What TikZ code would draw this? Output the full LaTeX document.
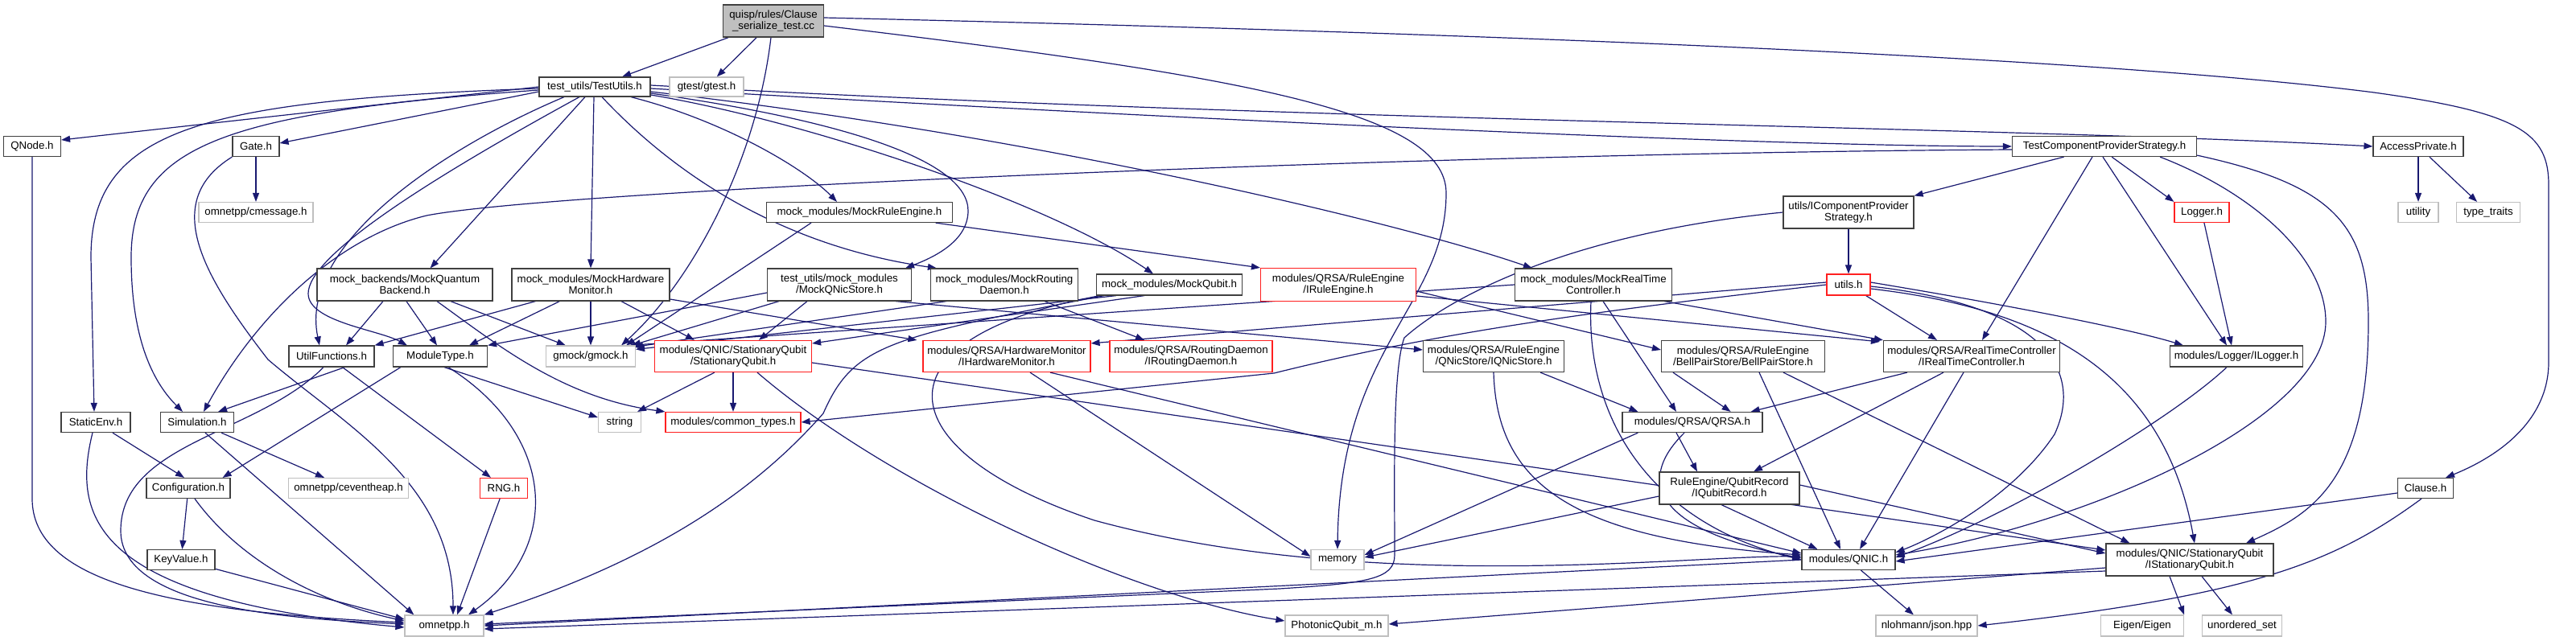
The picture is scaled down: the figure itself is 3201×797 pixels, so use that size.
\documentclass[tikz,border=0pt]{standalone}
\usepackage{fontspec}
\setmainfont{Liberation Sans}
\usetikzlibrary{arrows.meta,calc,backgrounds}
\definecolor{edgec}{HTML}{191970}
\definecolor{bordc}{HTML}{404040}
\definecolor{extc}{HTML}{BFBFBF}
\definecolor{truncc}{HTML}{FF2020}
\definecolor{rootfill}{HTML}{BFBFBF}
\newcommand\mynode[6]{\node[#1,minimum width=#4*0.5pt,minimum height=#5*0.5pt] (#2) at (#3) {#6};}
\begin{document}
\begin{tikzpicture}[x=0.5pt,y=-0.5pt,
  hbox/.style={draw=bordc,fill=white,line width=0.6pt,inner sep=0pt,align=center,font=\fontsize{6.65}{7.15}\selectfont},
  rbox/.style={hbox,fill=rootfill},
  xbox/.style={hbox,draw=extc},
  tbox/.style={hbox,draw=truncc},
  dep/.style={draw=edgec,line width=0.6pt,-{Triangle[length=5.5pt,width=4pt]}}]
\useasboundingbox (0,0) rectangle (3201,797);
% nodes
\mynode{rbox}{root}{961,26}{125}{40}{quisp/rules/Clause\\\_serialize\_test.cc}
\mynode{hbox}{tu}{739,108}{138}{24}{test\_utils/TestUtils.h}
\mynode{xbox}{gtest}{878,108}{92}{24}{gtest/gtest.h}
\mynode{hbox}{qnode}{40,182}{71}{25}{QNode.h}
\mynode{hbox}{gate}{318,182}{58}{25}{Gate.h}
\mynode{xbox}{cmsg}{318,264}{142}{25}{omnetpp/cmessage.h}
\mynode{hbox}{tcps}{2615,182}{229}{25}{TestComponentProviderStrategy.h}
\mynode{hbox}{acc}{3005,182}{112}{25}{AccessPrivate.h}
\mynode{hbox}{mre}{1068,264}{231}{25}{mock\_modules/MockRuleEngine.h}
\mynode{hbox}{icps}{2297,264}{162}{40}{utils/IComponentProvider\\Strategy.h}
\mynode{tbox}{logger}{2736,264}{68}{25}{Logger.h}
\mynode{xbox}{utility}{3005,264}{50}{25}{utility}
\mynode{xbox}{tt}{3092,264}{79}{25}{type\_traits}
\mynode{hbox}{mqb}{503,354}{218}{40}{mock\_backends/MockQuantum\\Backend.h}
\mynode{hbox}{mhm}{734,354}{196}{40}{mock\_modules/MockHardware\\Monitor.h}
\mynode{hbox}{mqns}{1043,354}{179}{40}{test\_utils/mock\_modules\\/MockQNicStore.h}
\mynode{hbox}{mrd}{1248,354}{183}{40}{mock\_modules/MockRouting\\Daemon.h}
\mynode{hbox}{mq}{1453,354}{181}{26}{mock\_modules/MockQubit.h}
\mynode{tbox}{ire}{1663,354}{193}{41}{modules/QRSA/RuleEngine\\/IRuleEngine.h}
\mynode{hbox}{mrtc}{1980,354}{195}{40}{mock\_modules/MockRealTime\\Controller.h}
\mynode{tbox}{utils}{2297,354}{54}{26}{utils.h}
\mynode{hbox}{uf}{412,443}{106}{26}{UtilFunctions.h}
\mynode{hbox}{mt}{547,443}{117}{26}{ModuleType.h}
\mynode{xbox}{gmock}{734,443}{111}{26}{gmock/gmock.h}
\mynode{tbox}{sq}{911,443}{195}{39}{modules/QNIC/StationaryQubit\\/StationaryQubit.h}
\mynode{tbox}{ihm}{1251,443}{208}{39}{modules/QRSA/HardwareMonitor\\/IHardwareMonitor.h}
\mynode{tbox}{ird}{1480,443}{202}{39}{modules/QRSA/RoutingDaemon\\/IRoutingDaemon.h}
\mynode{hbox}{iqns}{1856,443}{175}{39}{modules/QRSA/RuleEngine\\/QNicStore/IQNicStore.h}
\mynode{hbox}{bps}{2166,443}{203}{39}{modules/QRSA/RuleEngine\\/BellPairStore/BellPairStore.h}
\mynode{hbox}{irtc}{2450,443}{219}{39}{modules/QRSA/RealTimeController\\/IRealTimeController.h}
\mynode{hbox}{ilog}{2779,443}{165}{26}{modules/Logger/ILogger.h}
\mynode{hbox}{senv}{119,525}{86}{25}{StaticEnv.h}
\mynode{hbox}{sim}{245,525}{91}{25}{Simulation.h}
\mynode{xbox}{str}{770,525}{53}{25}{string}
\mynode{tbox}{ct}{911,525}{168}{25}{modules/common\_types.h}
\mynode{hbox}{qrsa}{2103,525}{174}{25}{modules/QRSA/QRSA.h}
\mynode{hbox}{conf}{234,607}{104}{25}{Configuration.h}
\mynode{xbox}{ceh}{433,607}{149}{25}{omnetpp/ceventheap.h}
\mynode{tbox}{rng}{626,607}{59}{25}{RNG.h}
\mynode{hbox}{iqr}{2149,607}{174}{40}{RuleEngine/QubitRecord\\/IQubitRecord.h}
\mynode{hbox}{clause}{3014,607}{69}{25}{Clause.h}
\mynode{hbox}{kv}{225,696}{84}{25}{KeyValue.h}
\mynode{xbox}{mem}{1662,696}{66}{25}{memory}
\mynode{hbox}{qnic}{2297,696}{116}{25}{modules/QNIC.h}
\mynode{hbox}{isq}{2721,696}{208}{40}{modules/QNIC/StationaryQubit\\/IStationaryQubit.h}
\mynode{xbox}{omnetpp}{552,778}{98}{26}{omnetpp.h}
\mynode{xbox}{pq}{1661,778}{128}{26}{PhotonicQubit\_m.h}
\mynode{xbox}{json}{2394,778}{126}{26}{nlohmann/json.hpp}
\mynode{xbox}{eigen}{2662,778}{103}{26}{Eigen/Eigen}
\mynode{xbox}{uset}{2786,778}{99}{26}{unordered\_set}
% edges
\begin{scope}[on background layer]
% root
\draw[dep] (root) -- (tu);
\draw[dep] (root) -- (gtest);
\draw[dep] ($(root.south)+(-3,0)$) .. controls (940,200) and (860,350) .. ($(gmock.north east)+(-18,0)$);
\draw[dep] ($(root.east)+(0,-4)$) .. controls (1800,40) and (2600,70) .. (2950,115) .. controls (3130,140) and (3167,165) .. (3167,230) -- (3167,450) .. controls (3167,520) and (3110,565) .. ($(clause.north)+(25,0)$);
\draw[dep] ($(root.east)+(0,6)$) .. controls (1550,95) and (1797,140) .. (1797,240) .. controls (1797,380) and (1665,430) .. (mem.north);
% TestUtils
\draw[dep] (tu.west) -- ($(qnode.east)+(0,-8)$);
\draw[dep] ($(tu.west)+(0,6)$) -- ($(gate.east)+(0,-4)$);
\draw[dep] ($(tu.west)+(0,2)$) .. controls (250,125) and (113,160) .. (113,320) -- ($(senv.north)+(-2,0)$);
\draw[dep] ($(tu.west)+(0,4)$) .. controls (280,140) and (163,180) .. (163,320) .. controls (163,430) and (195,480) .. ($(sim.north)+(-18,0)$);
\draw[dep] ($(tu.south)+(-38,0)$) .. controls (560,180) and (370,300) .. ($(uf.north)+(-15,0)$);
\draw[dep] ($(tu.south)+(-19,0)$) .. controls (520,230) and (383,320) .. (383,365) .. controls (383,400) and (470,410) .. ($(mt.north west)+(18,0)$);
\draw[dep] ($(tu.south)+(-12,0)$) -- ($(mqb.north east)+(-78,0)$);
\draw[dep] ($(tu.south)+(-1,0)$) -- (mhm.north);
\draw[dep] ($(tu.south)+(45,0)$) .. controls (900,150) and (1000,210) .. ($(mre.north)+(-28,0)$);
\draw[dep] ($(tu.south)+(9,0)$) .. controls (860,240) and (1000,310) .. ($(mrd.north west)+(8,0)$);
\draw[dep] ($(tu.east)+(0,8)$) .. controls (1050,150) and (1203,200) .. (1203,262) .. controls (1203,300) and (1160,320) .. ($(mqns.north east)+(-8,0)$);
\draw[dep] ($(tu.east)+(0,10)$) .. controls (1000,150) and (1300,250) .. ($(mq.north)+(-20,0)$);
\draw[dep] ($(tu.east)+(0,6)$) .. controls (1300,170) and (1750,280) .. ($(mrtc.north west)+(22,0)$);
\draw[dep] ($(tu.east)+(0,2)$) .. controls (1500,150) and (2200,182) .. (tcps.west);
\draw[dep] ($(tu.east)+(0,-2)$) .. controls (1600,150) and (2500,158) .. (acc.west);
% Gate, QNode
\draw[dep] (gate) -- (cmsg);
\draw[dep] (gate.south west) .. controls (200,250) and (250,340) .. (333,447) .. controls (430,530) and (563,600) .. ($(omnetpp.north)+(11,0)$);
\draw[dep] (qnode.south) -- (40,620) .. controls (40,720) and (200,760) .. ($(omnetpp.west)+(0,-4)$);
% TestComponentProviderStrategy
\draw[dep] ($(tcps.west)+(0,4)$) .. controls (1800,190) and (700,235) .. (530,268) .. controls (420,295) and (320,390) .. ($(sim.north)+(8,0)$);
\draw[dep] (tcps) -- (icps.north east);
\draw[dep] ($(tcps.south east)+(-106,0)$) -- (logger.north west);
\draw[dep] ($(tcps.south)+(-2,0)$) -- ($(ilog.north)+(-12,0)$);
\draw[dep] ($(tcps.south)+(-15,0)$) -- ($(irtc.north)+(13,0)$);
\draw[dep] ($(tcps.south east)+(-46,0)$) .. controls (2800,240) and (2890,320) .. (2890,400) .. controls (2890,520) and (2600,650) .. ($(qnic.east)+(0,-6)$);
\draw[dep] ($(tcps.south east)+(0,-2)$) .. controls (2900,230) and (2943,280) .. (2943,400) .. controls (2943,600) and (2870,640) .. ($(isq.north)+(70,0)$);
\draw[dep] (acc) -- (utility);
\draw[dep] (acc) -- (tt);
\draw[dep] (icps) -- (utils);
\draw[dep] (icps.west) .. controls (1950,290) and (1800,370) .. (1745,420) .. controls (1730,460) and (1733,600) .. (1733,690) .. controls (1733,720) and (1700,725) .. (1590,732) -- ($(omnetpp.east)+(0,-2)$);
\draw[dep] (logger) -- ($(ilog.north)+(-6,0)$);
% mocks
\draw[dep] (mre) -- (ire.north west);
\draw[dep] ($(mre.south)+(-60,0)$) -- ($(gmock.north east)+(-12,0)$);
\draw[dep] ($(mqb.south)+(-27,0)$) -- ($(uf.north)+(18,0)$);
\draw[dep] ($(mqb.south)+(2,0)$) -- ($(mt.north)+(-4,0)$);
\draw[dep] ($(mqb.south)+(57,0)$) -- ($(gmock.north west)+(25,0)$);
\draw[dep] ($(mqb.south)+(40,0)$) .. controls (620,430) and (700,495) .. (ct.north west);
\draw[dep] ($(mhm.south west)+(30,0)$) -- (uf.north east);
\draw[dep] ($(mhm.south west)+(60,0)$) -- ($(mt.north)+(36,0)$);
\draw[dep] (mhm) -- (gmock);
\draw[dep] ($(mhm.south)+(38,0)$) -- ($(sq.north west)+(50,0)$);
\draw[dep] ($(mhm.east)+(0,18)$) -- ($(ihm.north west)+(-7,0)$);
\draw[dep] ($(mqns.west)+(0,10)$) -- (mt.north east);
\draw[dep] ($(mqns.south west)+(15,0)$) -- ($(gmock.north east)+(-5,0)$);
\draw[dep] ($(mqns.south)+(-40,0)$) -- ($(sq.north)+(32,0)$);
\draw[dep] ($(mqns.south east)+(-20,0)$) -- ($(iqns.west)+(0,-8)$);
\draw[dep] ($(mrd.south west)+(20,0)$) -- ($(gmock.north east)+(-2,2)$);
\draw[dep] ($(mrd.south)+(50,0)$) -- ($(ird.north)+(-58,0)$);
\draw[dep] ($(mq.south west)+(25,0)$) -- ($(gmock.north east)+(0,5)$);
\draw[dep] ($(mq.south west)+(60,0)$) -- ($(sq.east)+(0,-16)$);
\draw[dep] ($(mq.south west)+(10,0)$) .. controls (1100,420) and (1060,430) .. (1023,514) .. controls (930,620) and (800,700) .. (omnetpp.north east);
\draw[dep] ($(mq.south west)+(5,0)$) .. controls (1080,420) and (1100,560) .. (1360,647) .. controls (1700,740) and (2100,690) .. ($(qnic.west)+(0,-4)$);
\draw[dep] ($(ire.east)+(0,8)$) -- ($(bps.west)+(0,-8)$);
\draw[dep] ($(ire.east)+(0,14)$) -- ($(irtc.north west)+(-4,2)$);
\draw[dep] (mrtc.west) -- ($(gmock.north east)+(-8,0)$);
\draw[dep] ($(mrtc.south east)+(-10,0)$) -- (irtc.north west);
\draw[dep] ($(mrtc.south)+(12,0)$) -- ($(qrsa.north)+(-20,0)$);
\draw[dep] ($(mrtc.south)+(-3,0)$) .. controls (1970,520) and (2050,650) .. (qnic.west);
% utils
\draw[dep] (utils.west) .. controls (2000,385) and (1800,410) .. (1583,464) -- (ct.east);
\draw[dep] ($(utils.west)+(0,-3)$) -- ($(ihm.north east)+(0,4)$);
\draw[dep] (utils) -- ($(irtc.north)+(-43,0)$);
\draw[dep] ($(utils.east)+(0,-3)$) .. controls (2500,380) and (2650,410) .. ($(ilog.north west)+(17,0)$);
\draw[dep] ($(utils.east)+(0,2)$) .. controls (2540,380) and (2590,460) .. (2553,540) .. controls (2500,620) and (2400,670) .. ($(qnic.east)+(0,-9)$);
\draw[dep] ($(utils.east)+(0,5)$) .. controls (2550,385) and (2690,470) .. ($(isq.north)+(6,0)$);
% left lower part
\draw[dep] ($(uf.south west)+(70,0)$) -- ($(sim.north east)+(-20,0)$);
\draw[dep] ($(uf.south east)+(-40,0)$) -- ($(rng.north)+(-16,0)$);
\draw[dep] ($(uf.south)+(-10,0)$) .. controls (320,540) and (150,550) .. (150,660) .. controls (150,760) and (380,770) .. ($(omnetpp.west)+(0,-2)$);
\draw[dep] ($(mt.south)+(5,0)$) -- ($(str.west)+(0,-6)$);
\draw[dep] ($(mt.south west)+(10,0)$) -- ($(conf.north east)+(-10,0)$);
\draw[dep] ($(mt.south)+(10,0)$) .. controls (690,540) and (700,680) .. ($(omnetpp.north)+(30,0)$);
\draw[dep] (senv) -- ($(conf.north)+(-5,0)$);
\draw[dep] ($(senv.south)+(-4,0)$) .. controls (90,640) and (110,745) .. ($(omnetpp.west)+(0,2)$);
\draw[dep] (sim) -- (ceh);
\draw[dep] ($(sim.south)+(10,0)$) -- ($(omnetpp.north west)+(12,0)$);
\draw[dep] (conf) -- (kv);
\draw[dep] ($(conf.south)+(8,0)$) .. controls (300,700) and (400,750) .. ($(omnetpp.west)+(0,-6)$);
\draw[dep] (kv) -- ($(omnetpp.west)+(0,-8)$);
\draw[dep] (rng) -- ($(omnetpp.north)+(16,0)$);
% StationaryQubit etc
\draw[dep] ($(sq.south west)+(75,0)$) -- ($(str.north east)+(-5,0)$);
\draw[dep] (sq) -- (ct);
\draw[dep] ($(sq.south)+(30,0)$) .. controls (1100,600) and (1400,740) .. ($(pq.west)+(0,-6)$);
\draw[dep] ($(sq.east)+(0,8)$) -- ($(isq.west)+(0,-12)$);
\draw[dep] ($(ihm.south)+(29,0)$) -- ($(mem.west)+(0,-4)$);
\draw[dep] ($(ihm.south)+(54,0)$) -- ($(qnic.west)+(0,-8)$);
\draw[dep] ($(iqns.south east)+(-30,0)$) -- ($(qrsa.north west)+(20,0)$);
\draw[dep] (iqns.south) .. controls (1860,600) and (1950,670) .. ($(qnic.west)+(0,-6)$);
\draw[dep] ($(bps.south west)+(15,0)$) -- ($(qrsa.north east)+(-40,0)$);
\draw[dep] ($(bps.south)+(20,0)$) -- ($(qnic.north)+(-10,0)$);
\draw[dep] ($(bps.south)+(50,0)$) -- ($(isq.north west)+(30,0)$);
\draw[dep] ($(irtc.south west)+(30,0)$) -- ($(qrsa.north east)+(-15,0)$);
\draw[dep] ($(irtc.south)+(-35,0)$) -- ($(iqr.north)+(30,0)$);
\draw[dep] ($(irtc.south)+(-10,0)$) -- ($(qnic.north)+(14,0)$);
\draw[dep] ($(ilog.south)+(-12,0)$) .. controls (2700,520) and (2500,640) .. ($(qnic.east)+(0,-3)$);
\draw[dep] ($(qrsa.south west)+(20,0)$) -- ($(mem.east)+(0,-6)$);
\draw[dep] ($(qrsa.south)+(-20,0)$) -- ($(iqr.north)+(-40,0)$);
\draw[dep] ($(qrsa.south)+(-10,0)$) .. controls (2030,600) and (2060,660) .. ($(qnic.west)+(0,-2)$);
\draw[dep] ($(iqr.west)+(0,10)$) -- ($(mem.east)+(0,-3)$);
\draw[dep] ($(iqr.south)+(-10,0)$) -- ($(qnic.north west)+(20,0)$);
\draw[dep] ($(iqr.east)+(0,-4)$) -- ($(isq.west)+(0,-8)$);
\draw[dep] ($(clause.west)+(0,6)$) -- ($(qnic.east)+(0,2)$);
\draw[dep] ($(clause.south)+(-5,0)$) .. controls (2900,700) and (2800,740) .. (json.east);
\draw[dep] (qnic.west) -- (omnetpp.east);
\draw[dep] (qnic) -- (json);
\draw[dep] ($(isq.west)+(0,10)$) -- ($(pq.east)+(0,-2)$);
\draw[dep] ($(isq.west)+(0,14)$) -- ($(omnetpp.east)+(0,4)$);
\draw[dep] ($(isq.south)+(-25,0)$) -- (eigen.north east);
\draw[dep] ($(isq.south)+(15,0)$) -- ($(uset.north)+(-12,0)$);
\end{scope}
\end{tikzpicture}
\end{document}
